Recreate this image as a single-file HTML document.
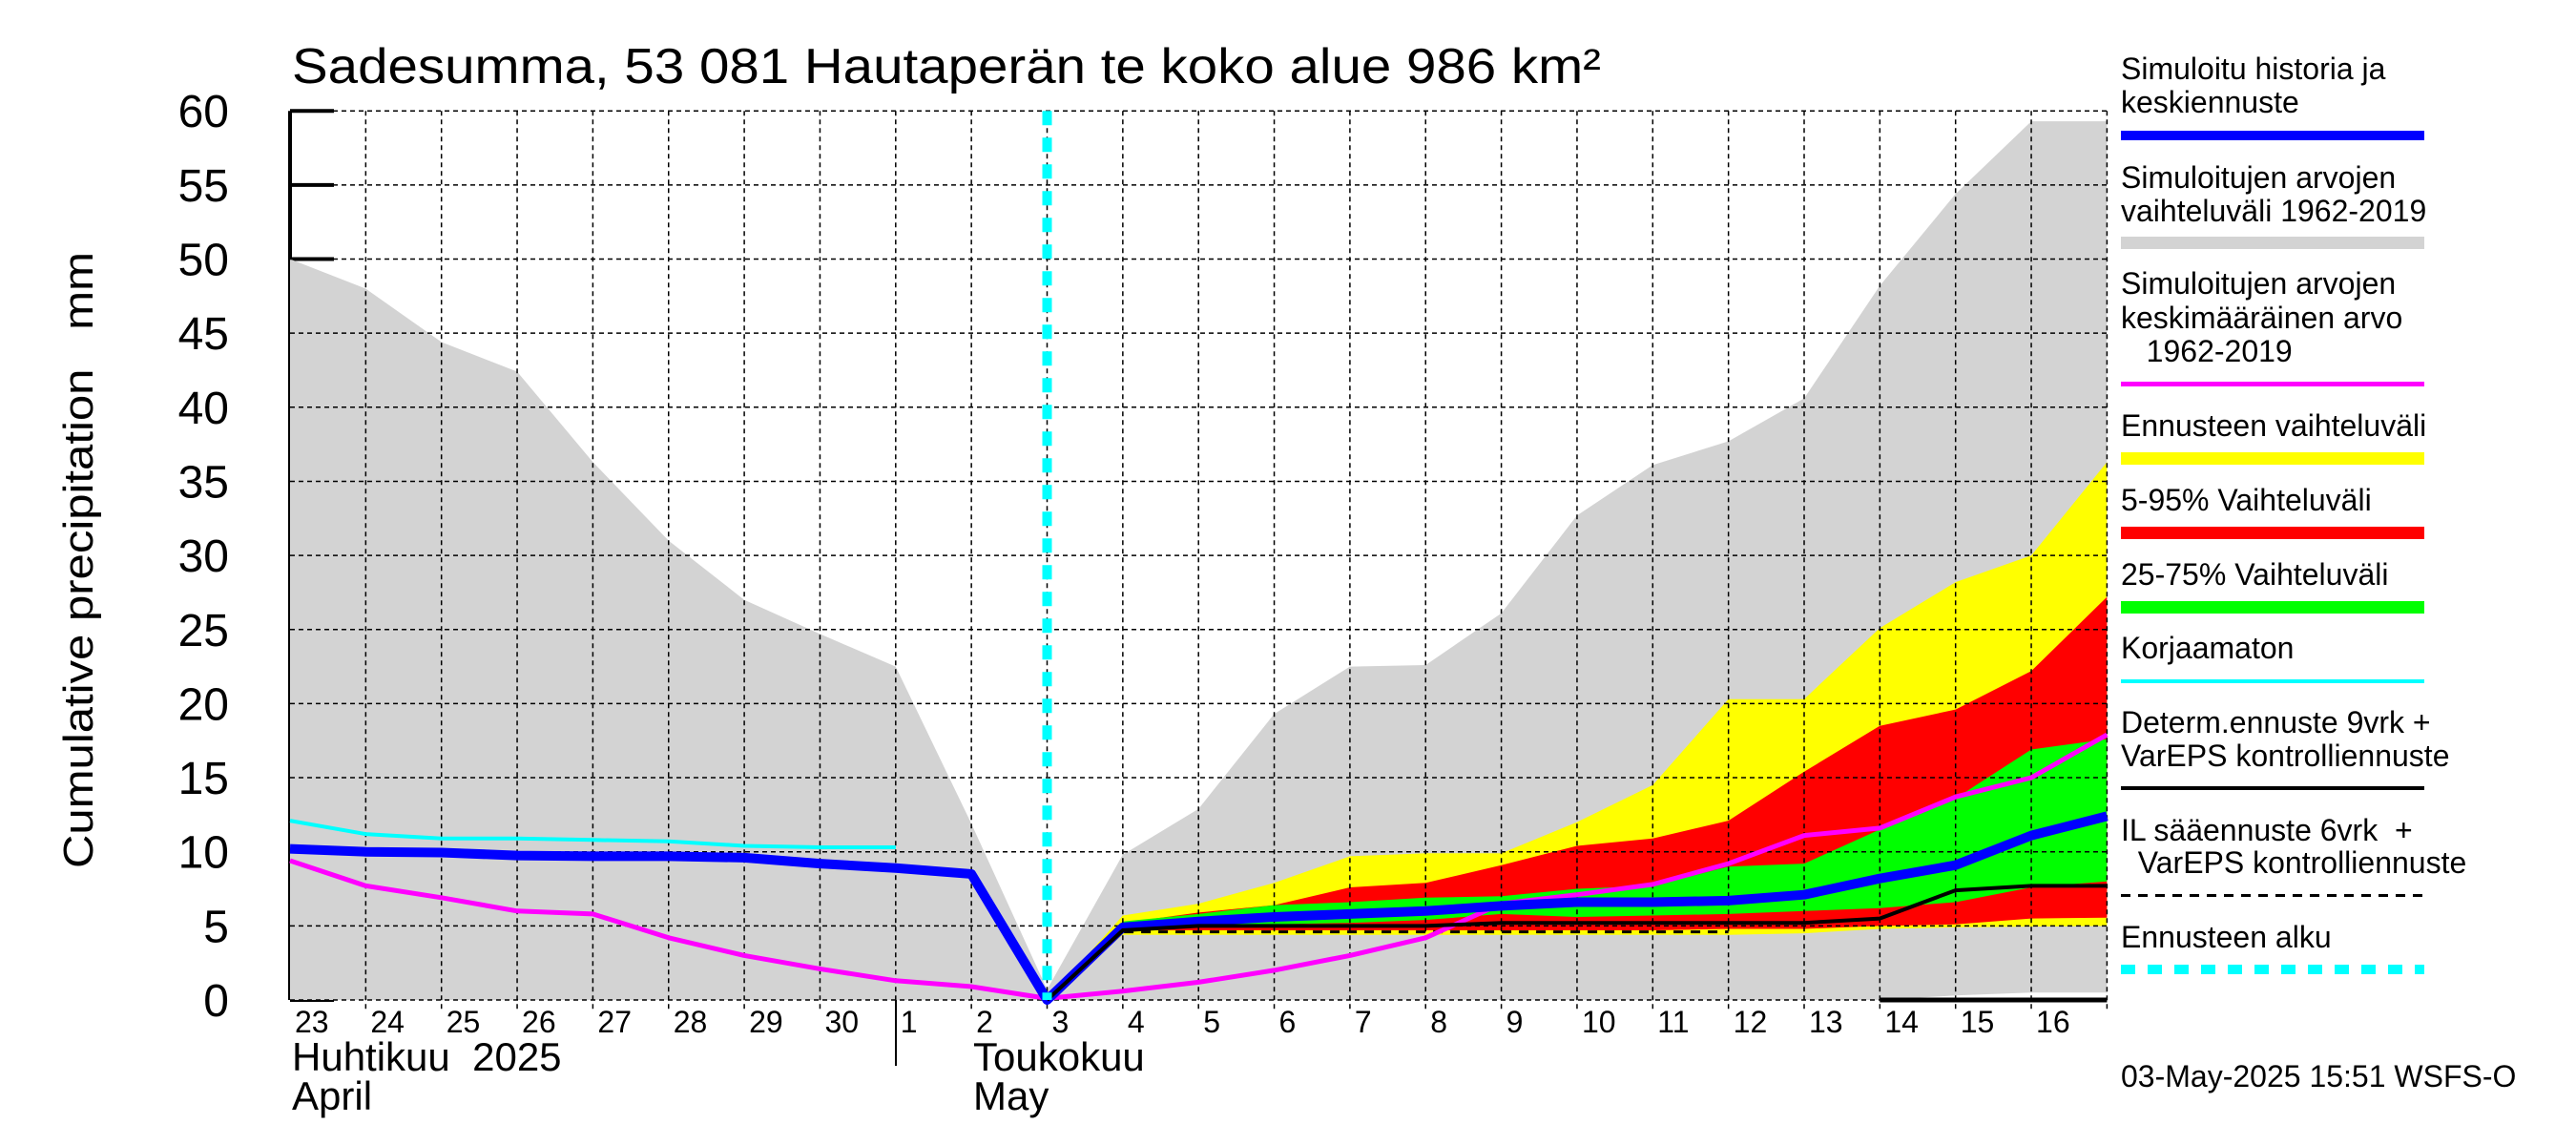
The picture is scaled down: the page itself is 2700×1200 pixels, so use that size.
<!DOCTYPE html>
<html><head><meta charset="utf-8"><title>Sadesumma</title>
<style>
html,body{margin:0;padding:0;background:#fff;}
svg{display:block;font-family:"Liberation Sans",Arial,sans-serif;}
</style></head>
<body>
<svg id="chart" width="2700" height="1200" viewBox="0 0 2700 1200" xmlns="http://www.w3.org/2000/svg">
<rect x="0" y="0" width="2700" height="1200" fill="#fff"/>
<text x="306" y="87" font-size="52" textLength="1372" lengthAdjust="spacingAndGlyphs">Sadesumma, 53 081 Hautaperän te koko alue 986 km²</text>
<text transform="translate(97,587) rotate(-90)" text-anchor="middle" font-size="44" textLength="646" lengthAdjust="spacingAndGlyphs" xml:space="preserve">Cumulative precipitation   mm</text>
<g id="plot"></g>
<g id="xlab"></g>
<g id="ylab"></g>
<text x="306" y="1122" font-size="42" xml:space="preserve">Huhtikuu  2025</text>
<text x="306" y="1163" font-size="42">April</text>
<text x="1020" y="1122" font-size="42">Toukokuu</text>
<text x="1020" y="1163" font-size="42">May</text>
<line x1="939" y1="1048" x2="939" y2="1117" stroke="#000" stroke-width="2"/>
<g font-size="32">
<text x="2223" y="83">Simuloitu historia ja</text>
<text x="2223" y="118">keskiennuste</text>
<rect x="2223" y="137" width="318" height="10" fill="#0000ff"/>
<text x="2223" y="197">Simuloitujen arvojen</text>
<text x="2223" y="232">vaihteluväli 1962-2019</text>
<rect x="2223" y="248" width="318" height="13" fill="#d3d3d3"/>
<text x="2223" y="308">Simuloitujen arvojen</text>
<text x="2223" y="344">keskimääräinen arvo</text>
<text x="2223" y="379" xml:space="preserve">   1962-2019</text>
<rect x="2223" y="400" width="318" height="5" fill="#ff00ff"/>
<text x="2223" y="457">Ennusteen vaihteluväli</text>
<rect x="2223" y="474" width="318" height="13" fill="#ffff00"/>
<text x="2223" y="535">5-95% Vaihteluväli</text>
<rect x="2223" y="552" width="318" height="13" fill="#ff0000"/>
<text x="2223" y="613">25-75% Vaihteluväli</text>
<rect x="2223" y="630" width="318" height="13" fill="#00ff00"/>
<text x="2223" y="690">Korjaamaton</text>
<rect x="2223" y="712" width="318" height="4" fill="#00ffff"/>
<text x="2223" y="768">Determ.ennuste 9vrk +</text>
<text x="2223" y="803">VarEPS kontrolliennuste</text>
<rect x="2223" y="824" width="318" height="4" fill="#000"/>
<text x="2223" y="881" xml:space="preserve">IL sääennuste 6vrk  +</text>
<text x="2223" y="915" xml:space="preserve">  VarEPS kontrolliennuste</text>
<line x1="2223" y1="938.5" x2="2541" y2="938.5" stroke="#000" stroke-width="3" stroke-dasharray="10 8"/>
<text x="2223" y="993">Ennusteen alku</text>
<line x1="2223" y1="1016" x2="2541" y2="1016" stroke="#00ffff" stroke-width="10" stroke-dasharray="15 13"/>
<text x="2223" y="1139">03-May-2025 15:51 WSFS-O</text>
</g>
</svg>
<script>
// ---- data (mm), index 0 = 23 Apr ... 24 = 17 May ----
const dayLabels = ["23","24","25","26","27","28","29","30","1","2","3","4","5","6","7","8","9","10","11","12","13","14","15","16"];
const yTicks = [0,5,10,15,20,25,30,35,40,45,50,55,60];
const grayUpper = [50,48,44.4,42.4,36.3,31,27,24.7,22.5,11.9,0.7,9.8,12.9,19.3,22.5,22.6,26.1,32.7,36.1,37.7,40.6,48.2,54.4,59.3,59.3];
const grayLower = [0,0,0,0,0,0,0,0,0,0,0,0,0,0,0,0,0,0,0,0,0,0,0.3,0.5,0.5];
const forecastStart = 10;
const yellowUpper = [0,5.7,6.5,7.9,9.7,9.9,9.9,12,14.5,20.3,20.3,25.1,28.2,30,36.3];
const yellowLower = [0,4.4,4.4,4.4,4.4,4.4,4.4,4.4,4.4,4.4,4.5,4.8,4.9,4.95,5.0];
const redUpper = [0,5.2,5.9,6.4,7.6,7.9,9.1,10.4,10.9,12.1,15.4,18.5,19.6,22.2,27.2];
const redLower = [0,4.7,4.7,4.7,4.7,4.7,4.7,4.7,4.7,4.8,4.8,5.0,5.1,5.5,5.55];
const greenUpper = [0,5.3,5.8,6.4,6.6,6.9,7.0,7.5,7.7,9.0,9.2,11.5,13.6,16.9,17.6];
const greenLower = [0,4.9,5.0,5.1,5.2,5.4,5.8,5.6,5.7,5.8,6.0,6.2,6.6,7.6,8.0];
const blueSeries = [10.2,10.0,9.95,9.75,9.7,9.7,9.6,9.2,8.9,8.5,0,4.9,5.3,5.6,5.8,6.0,6.35,6.6,6.6,6.7,7.1,8.2,9.1,11.1,12.4];
const magentaSeries = [9.4,7.7,6.9,6.0,5.8,4.2,3.0,2.1,1.3,0.9,0.1,0.6,1.2,2.0,3.0,4.2,6.5,7.1,7.8,9.2,11.1,11.6,13.7,15.0,17.9];
const cyanSeries = [12.1,11.2,10.9,10.9,10.8,10.7,10.4,10.3,10.3];
const determSeries = [0,4.7,5.0,5.0,5.0,5.0,5.2,5.2,5.2,5.2,5.2,5.5,7.4,7.7,7.7];
const ilSeries = [0,4.6,4.6,4.6,4.6,4.6,4.6,4.6,4.6,4.6];
const bottomStart = 21;
const bottomSeries = [0,0,0,0];

const NS = "http://www.w3.org/2000/svg";
const X0 = 304, DX = 79.35, Y0 = 1048, DY = 15.53;
function xs(i){ return X0 + i*DX; }
function ys(v){ return Y0 - v*DY; }
function mk(tag, attrs, parent){
  const e = document.createElementNS(NS, tag);
  for (const k in attrs) e.setAttribute(k, attrs[k]);
  parent.appendChild(e);
  return e;
}
const plot = document.getElementById('plot');
const xl = document.getElementById('xlab');
const yl = document.getElementById('ylab');

function linePts(arr, off){ return arr.map((v,i)=>xs(i+off).toFixed(1)+","+ys(v).toFixed(1)).join(" "); }
function bandPts(up, lo, off){
  const a = up.map((v,i)=>xs(i+off).toFixed(1)+","+ys(v).toFixed(1));
  const b = lo.map((v,i)=>xs(i+off).toFixed(1)+","+ys(v).toFixed(1)).reverse();
  return a.concat(b).join(" ");
}

mk('line',{x1:X0,y1:ys(60),x2:X0,y2:Y0,stroke:'#000','stroke-width':4},plot);
yTicks.forEach(function(t){
  const tk = mk('line',{x1:X0,y1:ys(t),x2:X0+46,y2:ys(t),stroke:'#000','stroke-width':4},plot);
  
  
});

const g1 = mk('polygon',{points:bandPts(grayUpper,grayLower,0),fill:'#d3d3d3'},plot);



const yb = mk('polygon',{points:bandPts(yellowUpper,yellowLower,forecastStart),fill:'#ffff00'},plot);


const rb = mk('polygon',{points:bandPts(redUpper,redLower,forecastStart),fill:'#ff0000'},plot);


const gb = mk('polygon',{points:bandPts(greenUpper,greenLower,forecastStart),fill:'#00ff00'},plot);



yTicks.forEach(function(t){
  const gl = mk('line',{x1:X0,y1:ys(t),x2:xs(24),y2:ys(t),stroke:'#000','stroke-width':1.5,'stroke-dasharray':'5 4'},plot);
  
  
});
for (let i=1;i<=24;i++){
  const gl = mk('line',{x1:xs(i),y1:ys(60),x2:xs(i),y2:Y0+10,stroke:'#000','stroke-width':1.5,'stroke-dasharray':'5 4'},plot);
  
  
}

const il = mk('polyline',{points:linePts(ilSeries,forecastStart),fill:'none',stroke:'#000','stroke-width':3,'stroke-dasharray':'10 8'},plot);


const cy = mk('polyline',{points:linePts(cyanSeries,0),fill:'none',stroke:'#00ffff','stroke-width':4},plot);


const mg = mk('polyline',{points:linePts(magentaSeries,0),fill:'none',stroke:'#ff00ff','stroke-width':5,'stroke-linejoin':'round'},plot);


const bl = mk('polyline',{points:linePts(blueSeries,0),fill:'none',stroke:'#0000ff','stroke-width':10,'stroke-linejoin':'round'},plot);


const dt = mk('polyline',{points:linePts(determSeries,forecastStart),fill:'none',stroke:'#000','stroke-width':4},plot);


const bt = mk('polyline',{points:linePts(bottomSeries,bottomStart),fill:'none',stroke:'#000','stroke-width':5},plot);



const fs = mk('line',{x1:xs(forecastStart),y1:ys(60),x2:xs(forecastStart),y2:Y0,stroke:'#00ffff','stroke-width':10,'stroke-dasharray':'15 13'},plot);



dayLabels.forEach(function(d,i){
  const t = mk('text',{x:xs(i)+5,y:1082,'font-size':32},xl);
  t.textContent = d;
  
  
});
yTicks.forEach(function(v){
  const t = mk('text',{x:240,y:ys(v)+17,'font-size':48,'text-anchor':'end'},yl);
  t.textContent = String(v);
  
  
});
</script>
</body></html>
